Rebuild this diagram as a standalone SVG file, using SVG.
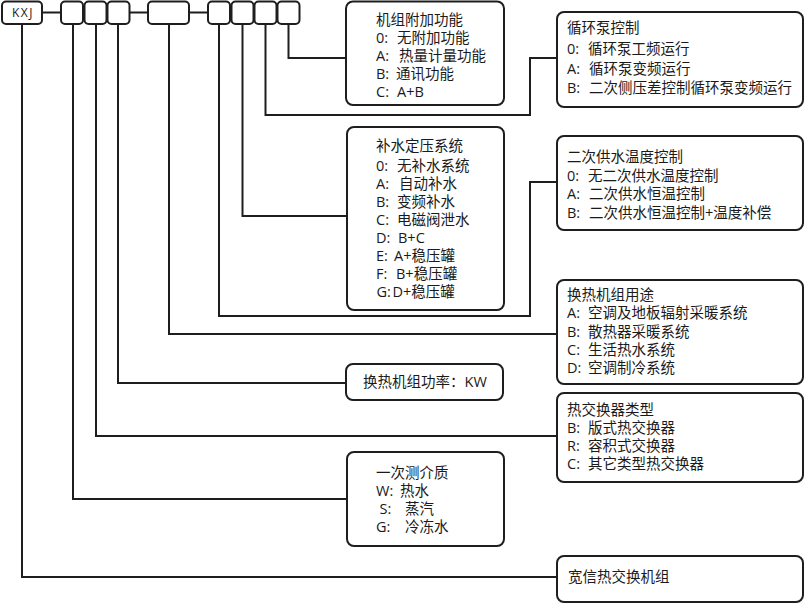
<svg xmlns="http://www.w3.org/2000/svg" width="804" height="604" viewBox="0 0 804 604">
<style>
.bx{fill:#fff;stroke:#1e1e1e;stroke-width:2}
.cn{fill:none;stroke:#1e1e1e;stroke-width:2}
text{font-family:"Open Sans","Noto Sans CJK SC",sans-serif;font-size:14.5px;fill:#1a1a1a}
.k{font-size:12px;letter-spacing:1.5px}
</style>
<rect width="804" height="604" fill="#fff"/>
<g id="connectors">
<path class="cn" d="M42 12.5H61M129.5 12.5H148M189 12.5H208"/>
<path class="cn" d="M22 24V577H557"/>
<path class="cn" d="M73 24V499H347"/>
<path class="cn" d="M96 24V436H557"/>
<path class="cn" d="M118 24V383H346"/>
<path class="cn" d="M169 24V334H557"/>
<path class="cn" d="M219 24V316H530V182H557"/>
<path class="cn" d="M242.5 24V216H347"/>
<path class="cn" d="M265.5 24V115H530V58H557"/>
<path class="cn" d="M288.5 24V58H346"/>
</g>
<g id="code-kxj"><rect class="bx" x="2" y="1.5" width="40" height="22.5" rx="4"/><text class="k" x="23" y="17" text-anchor="middle">KXJ</text></g>
<g id="code-1"><rect class="bx" x="61" y="1.5" width="22" height="22.5" rx="4"/></g>
<g id="code-2"><rect class="bx" x="84.5" y="1.5" width="22" height="22.5" rx="4"/></g>
<g id="code-3"><rect class="bx" x="107.5" y="1.5" width="22" height="22.5" rx="4"/></g>
<g id="code-4"><rect class="bx" x="148" y="1.5" width="41" height="22.5" rx="4"/></g>
<g id="code-5"><rect class="bx" x="208" y="1.5" width="22" height="22.5" rx="4"/></g>
<g id="code-6"><rect class="bx" x="231.5" y="1.5" width="22" height="22.5" rx="4"/></g>
<g id="code-7"><rect class="bx" x="254.5" y="1.5" width="22" height="22.5" rx="4"/></g>
<g id="code-8"><rect class="bx" x="277.5" y="1.5" width="22" height="22.5" rx="4"/></g>

<g id="extra-function">
<rect class="bx" x="346" y="1.5" width="158" height="103.5" rx="7"/>
<text x="376" y="25">机组附加功能</text>
<text x="376" y="43">0:<tspan x="397">无附加功能</tspan></text>
<text x="376" y="61">A:<tspan x="399">热量计量功能</tspan></text>
<text x="376" y="79">B:<tspan x="396">通讯功能</tspan></text>
<text x="376" y="97">C:<tspan x="397">A+B</tspan></text>
</g>

<g id="pump-control">
<rect class="bx" x="557" y="12" width="246" height="95" rx="7"/>
<text x="567" y="33">循环泵控制</text>
<text x="567" y="54">0:<tspan x="588">循环泵工频运行</tspan></text>
<text x="567" y="74">A:<tspan x="589">循环泵变频运行</tspan></text>
<text x="567" y="93">B:<tspan x="589">二次侧压差控制循环泵变频运行</tspan></text>
</g>

<g id="makeup-water">
<rect class="bx" x="347" y="127" width="157" height="183" rx="7"/>
<text x="376" y="151">补水定压系统</text>
<text x="376" y="171">0:<tspan x="397">无补水系统</tspan></text>
<text x="376" y="189">A:<tspan x="399">自动补水</tspan></text>
<text x="376" y="207">B:<tspan x="397">变频补水</tspan></text>
<text x="376" y="225">C:<tspan x="397">电磁阀泄水</tspan></text>
<text x="376" y="243">D:<tspan x="398">B+C</tspan></text>
<text x="376" y="261">E:<tspan x="394">A+稳压罐</tspan></text>
<text x="376" y="279">F:<tspan x="396">B+稳压罐</tspan></text>
<text x="376.5" y="297">G:<tspan x="392.5">D+稳压罐</tspan></text>
</g>

<g id="supply-temp">
<rect class="bx" x="557" y="136" width="246" height="94" rx="7"/>
<text x="567" y="162">二次供水温度控制</text>
<text x="567" y="181">0:<tspan x="588">无二次供水温度控制</tspan></text>
<text x="567" y="199">A:<tspan x="589">二次供水恒温控制</tspan></text>
<text x="567" y="218">B:<tspan x="589">二次供水恒温控制+温度补偿</tspan></text>
</g>

<g id="usage">
<rect class="bx" x="557" y="280" width="246" height="104" rx="7"/>
<text x="567" y="300">换热机组用途</text>
<text x="567" y="318">A:<tspan x="588">空调及地板辐射采暖系统</tspan></text>
<text x="567" y="337">B:<tspan x="588">散热器采暖系统</tspan></text>
<text x="567" y="355">C:<tspan x="588">生活热水系统</tspan></text>
<text x="567" y="373">D:<tspan x="588">空调制冷系统</tspan></text>
</g>

<g id="power">
<rect class="bx" x="346" y="364" width="157" height="36" rx="7"/>
<text x="425" y="387" text-anchor="middle">换热机组功率：KW</text>
</g>

<g id="exchanger-type">
<rect class="bx" x="557" y="393" width="246" height="89" rx="7"/>
<text x="567" y="415">热交换器类型</text>
<text x="567" y="433">B:<tspan x="588">版式热交换器</tspan></text>
<text x="567" y="451">R:<tspan x="588">容积式交换器</tspan></text>
<text x="567" y="469">C:<tspan x="588">其它类型热交换器</tspan></text>
</g>

<g id="primary-medium">
<rect class="bx" x="347" y="452" width="157" height="94" rx="7"/>
<text x="376" y="478">一次测介质</text>
<text x="376" y="496">W:<tspan x="400">热水</tspan></text>
<text x="379.5" y="514">S:<tspan x="405">蒸汽</tspan></text>
<text x="376" y="532">G:<tspan x="405">冷冻水</tspan></text>
</g>

<g id="product">
<rect class="bx" x="557" y="556" width="246" height="46" rx="7"/>
<text x="568" y="582">宽信热交换机组</text>
</g>
</svg>
